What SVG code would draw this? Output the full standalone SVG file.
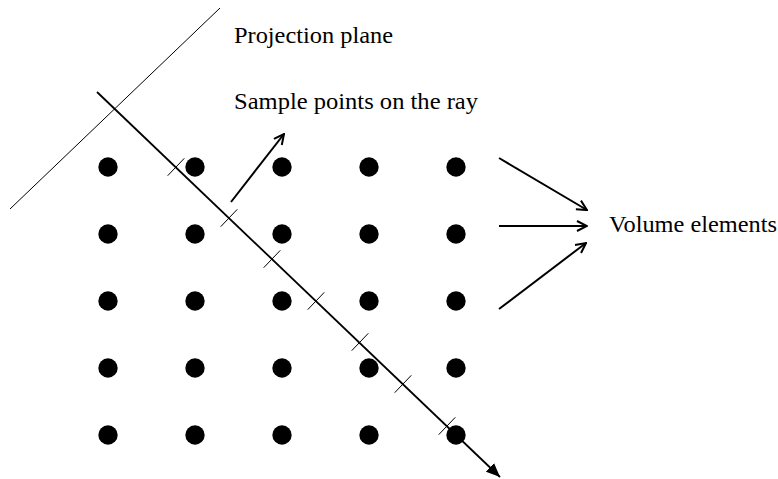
<svg xmlns="http://www.w3.org/2000/svg" width="778" height="479" viewBox="0 0 778 479">
<style>
.lbl{font-family:"Liberation Serif","Times New Roman",serif;font-size:24px;fill:#000}
.dot{fill:#000}
.thin{stroke:#000;stroke-width:1;fill:none}
.arr{stroke:#000;stroke-width:2;fill:none}
</style>
<defs>
<marker id="open" viewBox="0 0 12 12" refX="11" refY="6" markerWidth="12" markerHeight="12" markerUnits="userSpaceOnUse" orient="auto">
<path d="M1,1 L11,6 L1,11" fill="none" stroke="#000" stroke-width="2"/>
</marker>
<marker id="solid" viewBox="0 0 14 12" refX="14" refY="6" markerWidth="14" markerHeight="12" markerUnits="userSpaceOnUse" orient="auto">
<path d="M0,0 L14,6 L0,12 Z" fill="#000"/>
</marker>
</defs>
<rect width="778" height="479" fill="#fff"/>
<g id="plane"><line class="thin" x1="220" y1="8" x2="10" y2="209"/></g>
<g id="dots">
<circle class="dot" cx="108" cy="167" r="9.7"/><circle class="dot" cx="195" cy="167" r="9.7"/><circle class="dot" cx="282" cy="167" r="9.7"/><circle class="dot" cx="369" cy="167" r="9.7"/><circle class="dot" cx="456" cy="167" r="9.7"/>
<circle class="dot" cx="108" cy="234" r="9.7"/><circle class="dot" cx="195" cy="234" r="9.7"/><circle class="dot" cx="282" cy="234" r="9.7"/><circle class="dot" cx="369" cy="234" r="9.7"/><circle class="dot" cx="456" cy="234" r="9.7"/>
<circle class="dot" cx="108" cy="301" r="9.7"/><circle class="dot" cx="195" cy="301" r="9.7"/><circle class="dot" cx="282" cy="301" r="9.7"/><circle class="dot" cx="369" cy="301" r="9.7"/><circle class="dot" cx="456" cy="301" r="9.7"/>
<circle class="dot" cx="108" cy="368" r="9.7"/><circle class="dot" cx="195" cy="368" r="9.7"/><circle class="dot" cx="282" cy="368" r="9.7"/><circle class="dot" cx="369" cy="368" r="9.7"/><circle class="dot" cx="456" cy="368" r="9.7"/>
<circle class="dot" cx="108" cy="435" r="9.7"/><circle class="dot" cx="195" cy="435" r="9.7"/><circle class="dot" cx="282" cy="435" r="9.7"/><circle class="dot" cx="369" cy="435" r="9.7"/><circle class="dot" cx="456" cy="435" r="9.7"/>
</g>
<g id="connectors">
<line x1="97" y1="92" x2="500" y2="477" stroke="#000" stroke-width="1.8" marker-end="url(#solid)"/>
<g class="thin">
<line x1="167.7" y1="175.7" x2="184.3" y2="158.3"/>
<line x1="220.7" y1="226.7" x2="237.3" y2="209.3"/>
<line x1="263.7" y1="267.7" x2="280.3" y2="250.3"/>
<line x1="307.7" y1="309.7" x2="324.3" y2="292.3"/>
<line x1="351.7" y1="350.7" x2="368.3" y2="333.3"/>
<line x1="394.7" y1="392.7" x2="411.3" y2="375.3"/>
<line x1="438.7" y1="434.7" x2="455.3" y2="417.3"/>
</g>
<line class="arr" x1="231" y1="202" x2="284" y2="134" marker-end="url(#open)"/>
<line class="arr" x1="499" y1="158" x2="587" y2="210" marker-end="url(#open)"/>
<line class="arr" x1="499" y1="226" x2="587" y2="226" marker-end="url(#open)"/>
<line class="arr" x1="499" y1="309" x2="586" y2="243" marker-end="url(#open)"/>
</g>
<g id="labels">
<text class="lbl" x="234" y="43" textLength="159" lengthAdjust="spacingAndGlyphs">Projection plane</text>
<text class="lbl" x="234" y="109" textLength="244" lengthAdjust="spacingAndGlyphs">Sample points on the ray</text>
<text class="lbl" x="609" y="232" textLength="168" lengthAdjust="spacingAndGlyphs">Volume elements</text>
</g>
</svg>
